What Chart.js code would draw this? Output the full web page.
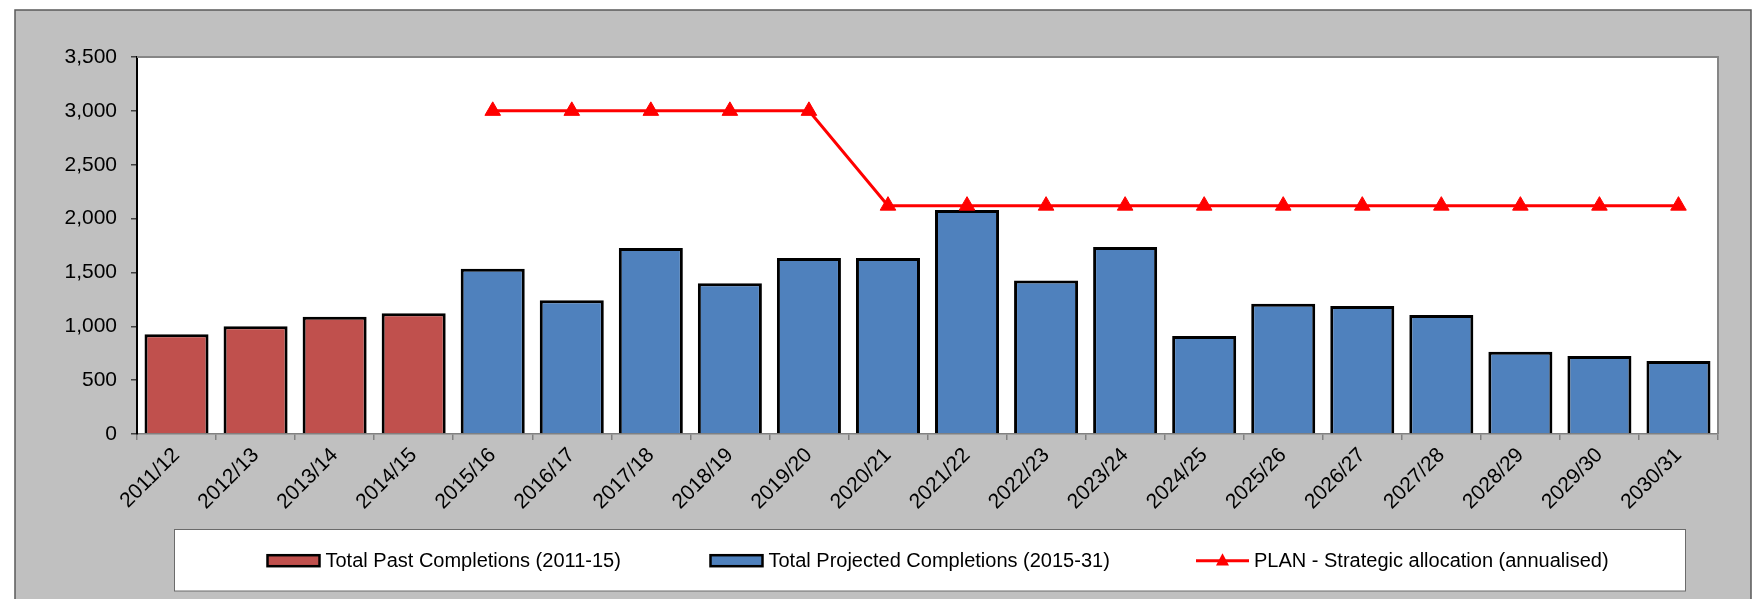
<!DOCTYPE html>
<html>
<head>
<meta charset="utf-8">
<script src="https://cdn.jsdelivr.net/npm/chart.js@4.4.1/dist/chart.umd.min.js"></script>
<style>
  html, body { margin: 0; padding: 0; background: #ffffff; }
  #wrap { width: 1763px; height: 599px; }
</style>
</head>
<body>
<div id="wrap"><canvas id="chart" width="1763" height="599"></canvas></div>
<script>
// Financial years on the category axis
const categories = [
  '2011/12', '2012/13', '2013/14', '2014/15', '2015/16', '2016/17', '2017/18',
  '2018/19', '2019/20', '2020/21', '2021/22', '2022/23', '2023/24', '2024/25',
  '2025/26', '2026/27', '2027/28', '2028/29', '2029/30', '2030/31'
];

// Completions already delivered (2011-15)
const pastCompletions = [
  925, 1000, 1089, 1121, null, null, null, null, null, null,
  null, null, null, null, null, null, null, null, null, null
];

// Completions projected for the plan period (2015-31)
const projectedCompletions = [
  null, null, null, null, 1533, 1242, 1726, 1400, 1633, 1633,
  2080, 1425, 1735, 910, 1210, 1189, 1105, 763, 723, 677
];

// Annualised strategic allocation from the plan
const strategicAllocation = [
  null, null, null, null, 3000, 3000, 3000, 3000, 3000, 2120,
  2120, 2120, 2120, 2120, 2120, 2120, 2120, 2120, 2120, 2120
];

// Value axis range
const yMin = 0;
const yMax = 3500;
const yStep = 500;

// Legend entries
const legendLabels = [
  'Total Past Completions (2011-15)',
  'Total Projected Completions (2015-31)',
  'PLAN - Strategic allocation (annualised)'
];

const FONT = '"Liberation Sans", Arial, Helvetica, sans-serif';
const RED = '#C0504D';
const BLUE = '#4F81BD';
const LINE_RED = '#FF0000';

// Grey frame, white plot area and plot border
const framePlugin = {
  id: 'frame',
  beforeDraw(chart) {
    const { ctx, chartArea: a } = chart;
    ctx.save();
    ctx.fillStyle = '#ffffff';
    ctx.fillRect(0, 0, chart.width, chart.height);
    ctx.fillStyle = '#C0C0C0';
    ctx.fillRect(15, 10, 1736, 600);
    ctx.strokeStyle = '#595959';
    ctx.lineWidth = 1.5;
    ctx.strokeRect(15, 10, 1736, 600);
    ctx.fillStyle = '#ffffff';
    ctx.fillRect(a.left, a.top, a.right - a.left, a.bottom - a.top);
    ctx.restore();
  },
  afterDatasetsDraw(chart) {
    const { ctx, chartArea: a } = chart;
    ctx.save();
    ctx.strokeStyle = '#868686';
    ctx.lineWidth = 2;
    ctx.beginPath();
    ctx.moveTo(a.left, a.top);
    ctx.lineTo(a.right, a.top);
    ctx.lineTo(a.right, a.bottom);
    ctx.stroke();
    ctx.restore();
  }
};

// Boxed legend beneath the axis labels
const boxLegendPlugin = {
  id: 'boxLegend',
  afterDraw(chart) {
    const { ctx } = chart;
    const box = { x: 174.5, y: 529.5, w: 1511, h: 61.5 };
    const cy = 560.7;
    const starts = [267.5, 710.5, 1196];
    const swatchW = 52;
    ctx.save();
    ctx.fillStyle = '#ffffff';
    ctx.fillRect(box.x, box.y, box.w, box.h);
    ctx.strokeStyle = '#6b6b6b';
    ctx.lineWidth = 1;
    ctx.strokeRect(box.x, box.y, box.w, box.h);

    ctx.font = '20px ' + FONT;
    ctx.textBaseline = 'middle';
    ctx.textAlign = 'left';

    // bar swatches
    [RED, BLUE].forEach((col, i) => {
      ctx.fillStyle = col;
      ctx.fillRect(starts[i], cy - 5.5, swatchW, 11);
      ctx.strokeStyle = '#000000';
      ctx.lineWidth = 2.5;
      ctx.strokeRect(starts[i], cy - 5.5, swatchW, 11);
      ctx.fillStyle = '#000000';
      ctx.fillText(legendLabels[i], starts[i] + swatchW + 6, cy + 1);
    });

    // line swatch with triangle marker
    const lx = starts[2];
    ctx.strokeStyle = LINE_RED;
    ctx.lineWidth = 3;
    ctx.beginPath();
    ctx.moveTo(lx, cy);
    ctx.lineTo(lx + 53, cy);
    ctx.stroke();
    ctx.fillStyle = LINE_RED;
    const mx = lx + 26.5, r = 7.5;
    ctx.beginPath();
    ctx.moveTo(mx, cy - r);
    ctx.lineTo(mx + r * 0.866, cy + r / 2 + 1);
    ctx.lineTo(mx - r * 0.866, cy + r / 2 + 1);
    ctx.closePath();
    ctx.fill();
    ctx.fillStyle = '#000000';
    ctx.fillText(legendLabels[2], lx + 58, cy + 1);
    ctx.restore();
  }
};

new Chart(document.getElementById('chart'), {
  type: 'bar',
  data: {
    labels: categories,
    datasets: [
      {
        type: 'line',
        label: legendLabels[2],
        data: strategicAllocation,
        borderColor: LINE_RED,
        backgroundColor: LINE_RED,
        borderWidth: 3,
        pointStyle: 'triangle',
        pointRadius: 9,
        pointBorderWidth: 1,
        pointBackgroundColor: LINE_RED,
        pointBorderColor: LINE_RED,
        tension: 0,
        order: 0
      },
      {
        label: legendLabels[0],
        data: pastCompletions,
        backgroundColor: RED,
        borderColor: '#000000',
        borderWidth: 3,
        grouped: false,
        categoryPercentage: 1,
        barPercentage: 0.81,
        order: 1
      },
      {
        label: legendLabels[1],
        data: projectedCompletions,
        backgroundColor: BLUE,
        borderColor: '#000000',
        borderWidth: 3,
        grouped: false,
        categoryPercentage: 1,
        barPercentage: 0.81,
        order: 2
      }
    ]
  },
  options: {
    responsive: false,
    animation: false,
    devicePixelRatio: 1,
    layout: { padding: { top: 57, right: 45, bottom: 0, left: 0 } },
    plugins: {
      legend: { display: false },
      tooltip: { enabled: false },
      title: { display: false }
    },
    scales: {
      x: {
        offset: true,
        grid: {
          offset: true,
          drawOnChartArea: false,
          drawTicks: true,
          tickLength: 6,
          color: '#808080',
          lineWidth: 1.5
        },
        border: { display: true, color: '#808080', width: 1.5 },
        ticks: {
          autoSkip: false,
          minRotation: 45,
          maxRotation: 45,
          padding: 3,
          color: '#000000',
          font: { family: FONT, size: 21 }
        },
        afterFit(scale) {
          scale.height = 165;
          scale.paddingLeft = 0;
          scale.paddingRight = 0;
        }
      },
      y: {
        min: yMin,
        max: yMax,
        grid: {
          drawOnChartArea: false,
          drawTicks: true,
          tickLength: 6,
          color: '#404040',
          lineWidth: 1.5
        },
        border: { display: true, color: '#000000', width: 2 },
        ticks: {
          stepSize: yStep,
          padding: 14,
          color: '#000000',
          font: { family: FONT, size: 21 }
        },
        afterFit(scale) {
          scale.width = 137;
        }
      }
    }
  },
  plugins: [framePlugin, boxLegendPlugin]
});
</script>
</body>
</html>
